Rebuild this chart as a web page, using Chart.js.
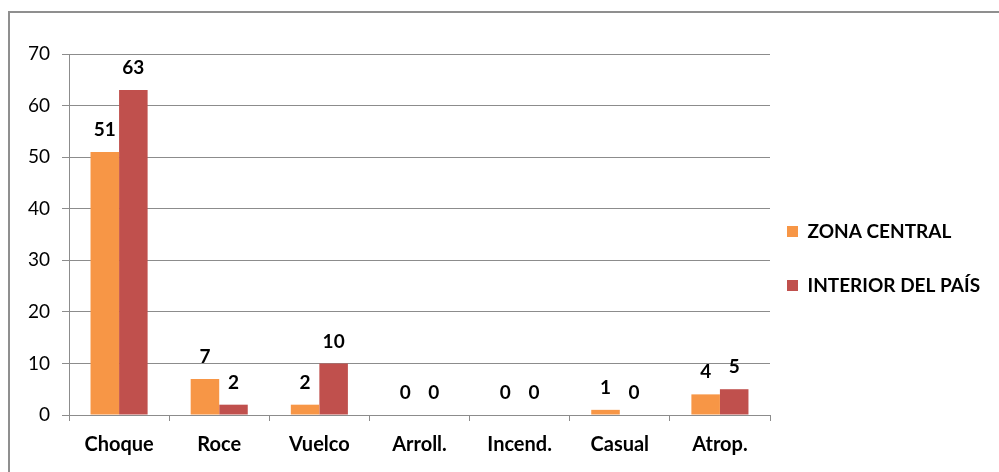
<!DOCTYPE html>
<html>
<head>
<meta charset="utf-8">
<script src="https://cdn.jsdelivr.net/npm/chart.js@4"></script>
<style>
  body { margin: 0; background: #fff; overflow: hidden; }
  #marco { position: absolute; left: 8px; top: 11px; width: 1100px; height: 600px; border: 2px solid #8f8f8f; }
  #grafico { position: absolute; left: 0; top: 0; }
</style>
</head>
<body>
<div id="marco"></div>
<canvas id="grafico" width="999" height="472"></canvas>
<script>
const categorias = ['Choque', 'Roce', 'Vuelco', 'Arroll.', 'Incend.', 'Casual', 'Atrop.'];
const zonaCentral = [51, 7, 2, 0, 0, 1, 4];
const interiorPais = [63, 2, 10, 0, 0, 0, 5];
const ticksY = [0, 10, 20, 30, 40, 50, 60, 70];

const gris = '#8c8c8c';
const fuente = 'Lato, "DejaVu Sans", sans-serif';
const paddingLeyenda = 35;

// etiquetas de valor sobre cada barra
const etiquetas = {
    id: 'etiquetas',
    afterDatasetsDraw(chart) {
        const ctx = chart.ctx;
        ctx.save();
        ctx.font = 'bold 19px ' + fuente;
        ctx.fillStyle = '#000';
        ctx.textAlign = 'center';
        ctx.textBaseline = 'middle';
        chart.data.datasets.forEach((ds, i) => {
            chart.getDatasetMeta(i).data.forEach((el, j) => {
                ctx.fillText(String(ds.data[j]), el.x, el.y - 22);
            });
        });
        ctx.restore();
    }
};

// ancho fijo para la leyenda y cuadros pegados al área del gráfico
const ajusteLeyenda = {
    id: 'ajusteLeyenda',
    afterInit(chart) {
        const lg = chart.legend;
        const fit = lg.fit;
        lg.fit = function () {
            fit.call(this);
            this.width = 229;
        };
    },
    afterLayout(chart) {
        const lg = chart.legend;
        const d = paddingLeyenda - 17;
        lg.left -= d;
        lg.right -= d;
    }
};

const ctx = document.getElementById('grafico').getContext('2d');
new Chart(ctx, {
    type: 'bar',
    data: {
        labels: categorias,
        datasets: [{
            label: 'ZONA CENTRAL',
            data: zonaCentral,
            backgroundColor: '#F79646',
            borderWidth: 0
        }, {
            label: 'INTERIOR DEL PAÍS',
            data: interiorPais,
            backgroundColor: '#C0504D',
            borderWidth: 0
        }]
    },
    options: {
        responsive: false,
        animation: false,
        devicePixelRatio: 1,
        categoryPercentage: 0.57,
        barPercentage: 1,
        layout: { padding: { top: 54, bottom: 9, left: 0, right: 0 } },
        plugins: {
            tooltip: { enabled: false },
            legend: {
                position: 'right',
                align: 'center',
                labels: {
                    boxWidth: 11,
                    boxHeight: 11,
                    padding: paddingLeyenda,
                    color: '#000',
                    font: { family: fuente, size: 19, weight: 'bold' }
                }
            }
        },
        scales: {
            x: {
                grid: { drawOnChartArea: false, drawTicks: true, tickLength: 6, color: gris, offset: true },
                border: { color: gris },
                ticks: { color: '#000', padding: 12, font: { family: fuente, size: 20, weight: 'bold' } },
                afterFit(scale) { scale.height = 48; }
            },
            y: {
                min: 0,
                max: 70,
                afterBuildTicks(scale) { scale.ticks = ticksY.map(v => ({ value: v })); },
                grid: { color: gris, tickLength: 7 },
                border: { color: gris },
                ticks: { color: '#000', padding: 12, font: { family: fuente, size: 19 } },
                afterFit(scale) { scale.width = 69; }
            }
        }
    },
    plugins: [etiquetas, ajusteLeyenda]
});
</script>
</body>
</html>
